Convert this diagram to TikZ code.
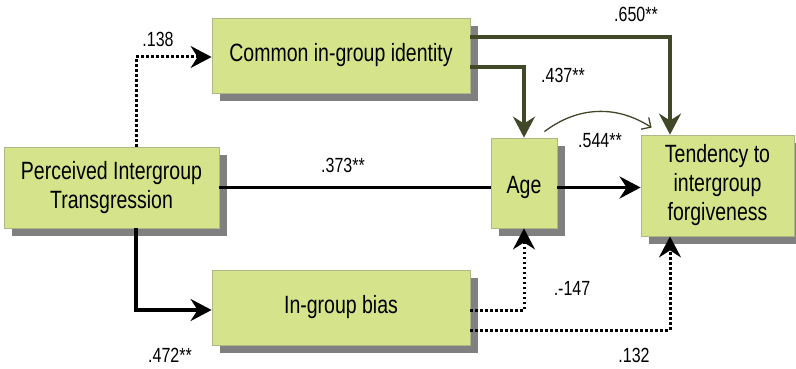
\documentclass[tikz,border=0pt]{standalone}
\usepackage{fontspec}
\setmainfont[FakeStretch=0.78]{Liberation Sans}
\usetikzlibrary{arrows.meta,shadows}
\definecolor{boxfill}{RGB}{213,227,138}
\definecolor{boxline}{RGB}{175,182,135}
\definecolor{shade}{RGB}{128,128,128}
\definecolor{olivearrow}{RGB}{64,72,40}
\begin{document}
\begin{tikzpicture}[x=1pt,y=-1pt,
  box/.style={draw=boxline, line width=0.8pt, fill=boxfill, align=center, inner sep=0pt,
    font=\fontsize{25}{29}\selectfont,
    drop shadow={shadow xshift=8pt, shadow yshift=-8pt, fill=shade, opacity=1}},
  lab/.style={font=\fontsize{20.5}{24}\selectfont, anchor=base, inner sep=0pt},
  bigtip/.style={-{Stealth[length=21pt,width=22pt,inset=7pt]}},
  solidline/.style={line width=3.5pt, black},
  dotline/.style={line width=3pt, black, dash pattern=on 2.5pt off 2.5pt},
  oliveline/.style={line width=3.5pt, olivearrow},
]
\useasboundingbox (0,0) rectangle (796,369);

\node[box, minimum width=258pt, minimum height=75pt] (common) at (341,55.5) {Common in-group identity};
\node[box, minimum width=215pt, minimum height=81pt] (pit) at (111.5,187.5) {Perceived Intergroup\\Transgression};
\node[box, minimum width=258pt, minimum height=75pt] (bias) at (341,307.5) {In-group bias};
\node[box, minimum width=66pt, minimum height=90pt] (age) at (524,183) {\raisebox{-4pt}[\height][\depth]{Age}};
\node[box, minimum width=153pt, minimum height=101pt] (tend) at (717.5,185.5) {Tendency to\\intergroup\\forgiveness};

% connectors
\draw[dotline, bigtip] ([xshift=24.5pt]pit.north) |- ([yshift=-1.5pt]common.west);
\draw[solidline] (pit.east) -- (pit.east -| age.west);
\draw[solidline, bigtip] (age.east |- pit.east) -- (tend.west |- pit.east);
\draw[solidline, bigtip] ([xshift=24.5pt]pit.south) |- ([yshift=-2.5pt]bias.west);
\draw[oliveline, bigtip] ([yshift=18.5pt]common.east) -| ([xshift=-47.5pt]tend.north);
\draw[oliveline, bigtip] ([yshift=-11.5pt]common.east) -| (age.north);
\draw[olivearrow, line width=1.3pt, -{Straight Barb[length=7pt,width=14pt]}]
  ([xshift=-13pt,yshift=6pt]age.north east) to[bend left=35] ([xshift=11pt,yshift=7pt]tend.north west);
\draw[dotline, bigtip] ([yshift=-3pt]bias.east) -| (age.south);
\draw[dotline, bigtip] ([yshift=-22.5pt]bias.east) -| ([xshift=-47.5pt]tend.south);

% labels
\node[lab] (l138) at (158,47) {.138};
\node[lab] (l373) at (343,172) {.373**};
\node[lab] (l650) at (636,22) {.650**};
\node[lab] (l437) at (563,83) {.437**};
\node[lab] (l544) at (600,147) {.544**};
\node[lab] (l147) at (572,295) {.-147};
\node[lab] (l132) at (634,362) {.132};
\node[lab] (l472) at (170,362) {.472**};
\end{tikzpicture}
\end{document}
